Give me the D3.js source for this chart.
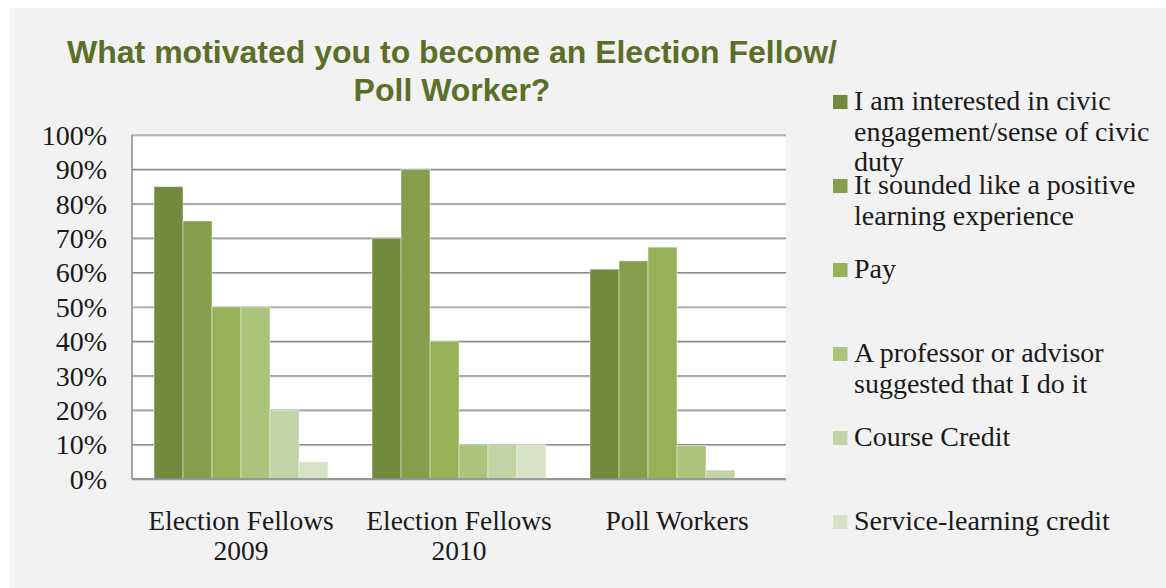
<!DOCTYPE html>
<html>
<head>
<meta charset="utf-8">
<script src="https://cdn.jsdelivr.net/npm/d3@7"></script>
<style>
  body { margin: 0; background: #ffffff; }
</style>
</head>
<body>
<div id="chart"></div>
<script>
// groups along the x axis (each label split on two lines)
const groups = ['Election Fellows 2009', 'Election Fellows 2010', 'Poll Workers'];
const groupLines = [['Election Fellows', '2009'], ['Election Fellows', '2010'], ['Poll Workers']];

// one array per answer, values per group
const civicDuty = [0.85, 0.70, 0.61];
const positiveLearning = [0.75, 0.90, 0.634];
const pay = [0.50, 0.40, 0.674];
const professorSuggested = [0.50, 0.10, 0.097];
const courseCredit = [0.20, 0.10, 0.026];
const serviceCredit = [0.05, 0.10, 0];

const seriesNames = [
  'I am interested in civic engagement/sense of civic duty',
  'It sounded like a positive learning experience',
  'Pay',
  'A professor or advisor suggested that I do it',
  'Course Credit',
  'Service-learning credit'
];
const legendLines = [
  ['I am interested in civic', 'engagement/sense of civic', 'duty'],
  ['It sounded like a positive', 'learning experience'],
  ['Pay'],
  ['A professor or advisor', 'suggested that I do it'],
  ['Course Credit'],
  ['Service-learning credit']
];
const seriesValues = [civicDuty, positiveLearning, pay, professorSuggested, courseCredit, serviceCredit];
const colors = ['#718a3e', '#859e4b', '#96b157', '#aac47b', '#c2d3a5', '#d7e2c5'];

const width = 1166;
const height = 588;
const plot = {left: 132, right: 786, top: 135, bottom: 479};
const serif = '"Liberation Serif", "Times New Roman", serif';
const fontColor = '#1a1a1a';

const svg = d3.select('#chart')
  .append('svg')
    .attr('width', width)
    .attr('height', height);

// panel background
svg.append('rect')
  .attr('x', 10).attr('y', 8)
  .attr('width', width - 10).attr('height', height - 8)
  .attr('fill', '#f2f2f2');

svg.append('rect')
  .attr('x', plot.left).attr('y', plot.top)
  .attr('width', plot.right - plot.left).attr('height', plot.bottom - plot.top)
  .attr('fill', '#ffffff');

const yScale = d3.scaleLinear()
  .domain([0, 1])
  .range([plot.bottom, plot.top]);

const x0 = d3.scaleBand()
  .domain(groups)
  .range([plot.left, plot.right])
  .paddingInner(0)
  .paddingOuter(0);

const x1 = d3.scaleBand()
  .domain(seriesNames)
  .range([0, x0.bandwidth()])
  .paddingInner(0)
  .paddingOuter(0.76);

// gridlines
const grid = svg.append('g');
yScale.ticks(10).forEach(t => {
  grid.append('line')
    .attr('x1', plot.left).attr('x2', plot.right)
    .attr('y1', yScale(t) + 1).attr('y2', yScale(t) + 1)
    .attr('stroke', '#c4c4c4').attr('stroke-width', 1);
  grid.append('line')
    .attr('x1', plot.left).attr('x2', plot.right)
    .attr('y1', yScale(t)).attr('y2', yScale(t))
    .attr('stroke', '#8a8a8a').attr('stroke-width', 1.2);
});

// bars
const barData = [];
groups.forEach((g, gi) => {
  seriesNames.forEach((s, si) => {
    barData.push({group: g, series: s, value: seriesValues[si][gi], color: colors[si]});
  });
});

svg.append('g')
  .selectAll('rect')
  .data(barData.filter(d => d.value > 0))
  .join('rect')
    .attr('x', d => x0(d.group) + x1(d.series))
    .attr('y', d => yScale(d.value))
    .attr('width', x1.bandwidth())
    .attr('height', d => yScale(0) - yScale(d.value))
    .attr('fill', d => d.color)
    .attr('stroke', 'rgba(255,255,255,0.45)')
    .attr('stroke-width', 1);

// axes lines
svg.append('line')
  .attr('x1', plot.left).attr('x2', plot.left)
  .attr('y1', plot.top).attr('y2', plot.bottom)
  .attr('stroke', '#8a8a8a').attr('stroke-width', 1.5);
svg.append('line')
  .attr('x1', plot.left).attr('x2', plot.right)
  .attr('y1', plot.bottom).attr('y2', plot.bottom)
  .attr('stroke', '#8a8a8a').attr('stroke-width', 1.5);

// y axis labels
const yAxis = svg.append('g')
  .attr('transform', `translate(${plot.left},0)`)
  .call(d3.axisLeft(yScale).ticks(10).tickFormat(d3.format('.0%')).tickSize(0).tickPadding(25));
yAxis.select('.domain').remove();
yAxis.selectAll('.tick text')
  .style('font-family', serif)
  .style('font-size', '28px')
  .attr('fill', fontColor)
  .attr('dy', '0.33em');

// x axis labels
const xLabels = svg.append('g')
  .selectAll('text')
  .data(groups)
  .join('text')
    .attr('x', d => x0(d) + x0.bandwidth() / 2)
    .attr('y', 530)
    .attr('text-anchor', 'middle')
    .style('font-family', serif)
    .style('font-size', '27.5px')
    .attr('fill', fontColor);
xLabels.each(function (d, i) {
  d3.select(this).selectAll('tspan')
    .data(groupLines[i])
    .join('tspan')
      .attr('x', x0(d) + x0.bandwidth() / 2)
      .attr('dy', (l, j) => j === 0 ? 0 : 30)
      .text(l => l);
});

// title
const title = svg.append('text')
  .attr('text-anchor', 'middle')
  .style('font-family', 'Arial, "Liberation Sans", sans-serif')
  .style('font-weight', 'bold')
  .style('font-size', '32px')
  .attr('fill', '#5b6f29');
title.append('tspan').attr('x', 452).attr('y', 63).text('What motivated you to become an Election Fellow/');
title.append('tspan').attr('x', 452).attr('y', 101).text('Poll Worker?');

// legend
const legend = svg.append('g')
  .selectAll('g')
  .data(seriesNames)
  .join('g')
    .attr('transform', (d, i) => `translate(833, ${110 + i * 84})`);

legend.append('rect')
  .attr('x', 0).attr('y', -15)
  .attr('width', 14.5).attr('height', 14)
  .attr('fill', (d, i) => colors[i]);

legend.append('text')
  .style('font-family', serif)
  .style('font-size', '28px')
  .attr('fill', fontColor)
  .each(function (d, i) {
    d3.select(this).selectAll('tspan')
      .data(legendLines[i])
      .join('tspan')
        .attr('x', 21)
        .attr('y', (l, j) => j * 30.5)
        .text(l => l);
  });
</script>
</body>
</html>
